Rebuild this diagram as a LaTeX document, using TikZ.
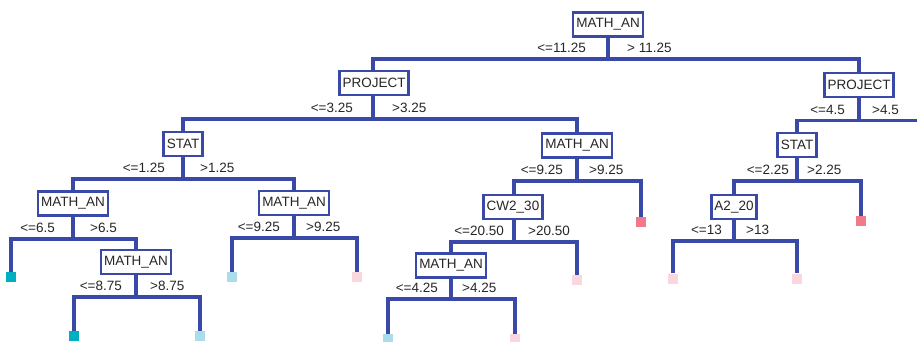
\documentclass[tikz,border=0pt]{standalone}
\usepackage{fontspec}
\setmainfont{Liberation Sans}
\usetikzlibrary{positioning}
\definecolor{treeblue}{RGB}{58,72,168}
\definecolor{leafteal}{RGB}{0,175,192}
\definecolor{leafsky}{RGB}{170,221,233}
\definecolor{leafpink}{RGB}{250,214,222}
\definecolor{leafred}{RGB}{240,122,138}

\begin{document}
\begin{tikzpicture}[x = 1pt, y = -1pt,
  every node/.style = {font = \fontsize{13.5}{16}\selectfont, text = black!85},
  testbox/.style = {draw = treeblue, line width = 2.6pt, fill = white, inner xsep = 3.2pt, inner ysep = 0pt, minimum height = 24pt},
  edge/.style = {treeblue, line width = 3.2pt},
  lab/.style = {inner sep = 0pt},
  leaf/.style = {minimum size = 10pt, inner sep = 0pt}]
\useasboundingbox (0,0) rectangle (917,341);
\clip (0,0) rectangle (917,341);

% tests
\node[testbox] (mathA) at (608,24.5) {MATH\_AN};
\node[testbox] (projL) at (374,83) {PROJECT};
\node[testbox] (projR) at (859,85) {PROJECT};
\node[testbox] (statL) at (183,144) {STAT};
\node[testbox] (mathB) at (577,145.5) {MATH\_AN};
\node[testbox] (statR) at (797,145) {STAT};
\node[testbox] (mathC) at (73,203.5) {MATH\_AN};
\node[testbox] (mathD) at (294,203) {MATH\_AN};
\node[testbox] (cwB) at (513,207) {CW2\_30};
\node[testbox] (aTwo) at (734,207) {A2\_20};
\node[testbox] (mathE) at (136,262) {MATH\_AN};
\node[testbox] (mathF) at (451,265.5) {MATH\_AN};

% leaves
\node[leaf, fill = leafteal] (leafA) at (11,277) {};
\node[leaf, fill = leafteal] (leafB) at (74,336) {};
\node[leaf, fill = leafsky] (leafC) at (200,336) {};
\node[leaf, fill = leafsky] (leafD) at (232,277) {};
\node[leaf, fill = leafpink] (leafE) at (357,277) {};
\node[leaf, fill = leafsky] (leafF) at (388,339) {};
\node[leaf, fill = leafpink] (leafG) at (515,339) {};
\node[leaf, fill = leafpink] (leafH) at (577,280) {};
\node[leaf, fill = leafred] (leafI) at (641,222) {};
\node[leaf, fill = leafpink] (leafJ) at (673,278.5) {};
\node[leaf, fill = leafpink] (leafK) at (797,278.5) {};
\node[leaf, fill = leafred] (leafL) at (861,221) {};

% split points
\coordinate (s0) at (608,59);
\coordinate (s1) at (373,119);
\coordinate (s2) at (859,120.5);
\coordinate (s3) at (183,179);
\coordinate (s4) at (577,181);
\coordinate (s5) at (797,181);
\coordinate (s6) at (73,239);
\coordinate (s7) at (294,238);
\coordinate (s8) at (514,242);
\coordinate (s9) at (734,241);
\coordinate (s10) at (136,297);
\coordinate (s11) at (451,299);
\coordinate (offR) at (919,140);

% branches
\draw[edge] (mathA.south) -- (s0);
\draw[edge] (projL.north -| s1) |- (s0) -| (projR.north);
\draw[edge] (projL.south -| s1) -- (s1);
\draw[edge] (statL.north) |- (s1) -| (mathB.north);
\draw[edge] (projR.south) -- (s2);
\draw[edge] (statR.north) |- (s2) -| (offR);
\draw[edge] (statL.south) -- (s3);
\draw[edge] (mathC.north) |- (s3) -| (mathD.north);
\draw[edge] (mathB.south) -- (s4);
\draw[edge] (cwB.north -| s8) |- (s4) -| (leafI.north);
\draw[edge] (statR.south) -- (s5);
\draw[edge] (aTwo.north) |- (s5) -| (leafL.north);
\draw[edge] (mathC.south) -- (s6);
\draw[edge] (leafA.north) |- (s6) -| (mathE.north);
\draw[edge] (mathD.south) -- (s7);
\draw[edge] (leafD.north) |- (s7) -| (leafE.north);
\draw[edge] (cwB.south -| s8) -- (s8);
\draw[edge] (mathF.north) |- (s8) -| (leafH.north);
\draw[edge] (aTwo.south) -- (s9);
\draw[edge] (leafJ.north) |- (s9) -| (leafK.north);
\draw[edge] (mathE.south) -- (s10);
\draw[edge] (leafB.north) |- (s10) -| (leafC.north);
\draw[edge] (mathF.south) -- (s11);
\draw[edge] (leafF.north) |- (s11) -| (leafG.north);

% conditions
\node[lab, above left = 6pt and 22pt of s0] {<=11.25};
\node[lab, above right = 6pt and 19pt of s0] {> 11.25};
\node[lab, above left = 6pt and 20pt of s1] {<=3.25};
\node[lab, above right = 6pt and 19pt of s1] {>3.25};
\node[lab, above left = 6pt and 14pt of s2] {<=4.5};
\node[lab, above right = 6pt and 13pt of s2] {>4.5};
\node[lab, above left = 6pt and 18pt of s3] {<=1.25};
\node[lab, above right = 6pt and 17pt of s3] {>1.25};
\node[lab, above left = 6pt and 14pt of s4] {<=9.25};
\node[lab, above right = 6pt and 12pt of s4] {>9.25};
\node[lab, above left = 6pt and 8pt of s5] {<=2.25};
\node[lab, above right = 6pt and 10pt of s5] {>2.25};
\node[lab, above left = 6pt and 18pt of s6] {<=6.5};
\node[lab, above right = 6pt and 17pt of s6] {>6.5};
\node[lab, above left = 6pt and 14pt of s7] {<=9.25};
\node[lab, above right = 6pt and 12pt of s7] {>9.25};
\node[lab, above left = 6pt and 10pt of s8] {<=20.50};
\node[lab, above right = 6pt and 14pt of s8] {>20.50};
\node[lab, above left = 6pt and 12pt of s9] {<=13};
\node[lab, above right = 6pt and 12pt of s9] {>13};
\node[lab, above left = 6pt and 14pt of s10] {<=8.75};
\node[lab, above right = 6pt and 14pt of s10] {>8.75};
\node[lab, above left = 6pt and 13pt of s11] {<=4.25};
\node[lab, above right = 6pt and 11pt of s11] {>4.25};
\end{tikzpicture}
\end{document}
